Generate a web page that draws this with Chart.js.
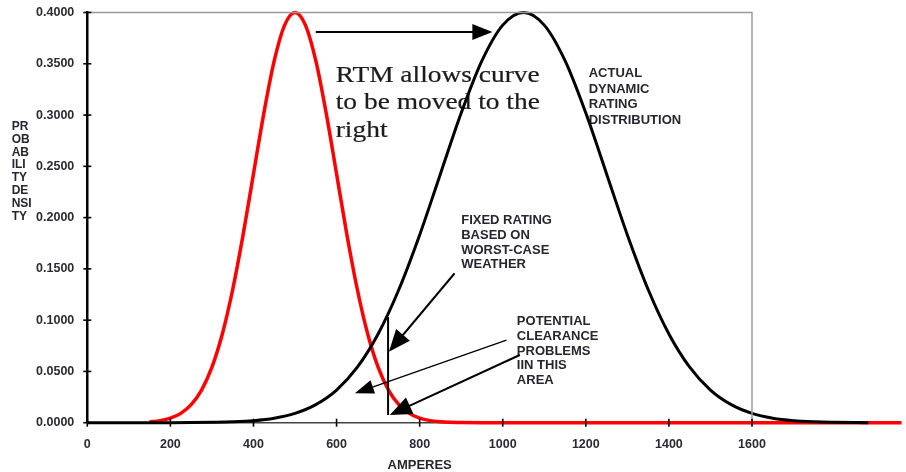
<!DOCTYPE html>
<html><head><meta charset="utf-8">
<script src="https://cdn.jsdelivr.net/npm/chart.js@4"></script>
<style>html,body{margin:0;padding:0;background:#fff;}canvas{display:block}</style>
</head><body>
<canvas id="c" width="906" height="472"></canvas>
<script>
// ---- data ----
const xTicks = [0, 200, 400, 600, 800, 1000, 1200, 1400, 1600];
const yTicks = [0, 0.05, 0.10, 0.15, 0.20, 0.25, 0.30, 0.35, 0.40];

// fixed (static) rating distribution - red
const redAmps = [150,175,200,225,250,275,300,325,350,375,400,425,450,475,500,525,550,575,600,625,650,675,700,725,750,775,800,825,850,875,900,950,1000,1500,1960];
const redDensity = [0.0009,0.0020,0.0044,0.0091,0.0176,0.0318,0.0541,0.0865,0.1299,0.1831,0.2426,0.3019,0.3530,0.3877,0.4000,0.3877,0.3530,0.3019,0.2426,0.1831,0.1299,0.0865,0.0541,0.0318,0.0176,0.0091,0.0044,0.0020,0.0009,0.0004,0.0001,0.0000,0.0000,0.0000,0.0000];

// actual dynamic rating distribution - black
const blackAmps = [0,100,200,250,300,350,400,450,500,550,600,650,700,750,800,850,900,950,1000,1050,1100,1150,1200,1250,1300,1350,1400,1450,1500,1550,1600,1650,1700,1750,1800,1850,1880];
const blackDensity = [0.0000,0.0000,0.0000,0.0001,0.0004,0.0009,0.0020,0.0044,0.0091,0.0176,0.0318,0.0541,0.0865,0.1299,0.1831,0.2426,0.3019,0.3530,0.3877,0.4000,0.3877,0.3530,0.3019,0.2426,0.1831,0.1299,0.0865,0.0541,0.0318,0.0176,0.0091,0.0044,0.0020,0.0009,0.0004,0.0001,0.0000];

const yTitleLines = ['PR','OB','AB','ILI','TY','DE','NSI','TY'];
const xTitle = 'AMPERES';
const rtmText = ['RTM allows curve','to be moved to the','right'];
const actualText = ['ACTUAL','DYNAMIC','RATING','DISTRIBUTION'];
const fixedText = ['FIXED RATING','BASED ON','WORST-CASE','WEATHER'];
const clearanceText = ['POTENTIAL','CLEARANCE','PROBLEMS','IIN THIS','AREA'];

// annotation anchors (data units: amperes, density)
const rtmAnchor = [598, 0.3324];
const actualAnchor = [1207, 0.3402];
const fixedAnchor = [900, 0.1971];
const clearanceAnchor = [1034, 0.0988];
const shiftArrow = [[550, 0.381], [975, 0.381]];
const fixedArrow = [[884, 0.1456], [726, 0.0692]];
const clearArrow1 = [[1009, 0.0806], [644, 0.0287]];
const clearArrow2 = [[1041, 0.0660], [728, 0.0075]];
const fixedRatingLine = [[724, 0.0075], [724, 0.103]];

const SANS = '"Liberation Sans", Arial, sans-serif';
const SERIF = '"Liberation Serif", "Times New Roman", serif';
const TEXT = '#262630';

function arrow(ctx, x0, y0, x1, y1, lw, hl, hw) {
  const dx = x1 - x0, dy = y1 - y0, L = Math.hypot(dx, dy);
  const ux = dx / L, uy = dy / L;
  const bx = x1 - ux * hl, by = y1 - uy * hl;
  ctx.save();
  ctx.strokeStyle = '#000'; ctx.fillStyle = '#000'; ctx.lineWidth = lw;
  ctx.beginPath(); ctx.moveTo(x0, y0); ctx.lineTo(bx + ux, by + uy); ctx.stroke();
  ctx.beginPath();
  ctx.moveTo(x1, y1);
  ctx.lineTo(bx - uy * hw, by + ux * hw);
  ctx.lineTo(bx + uy * hw, by - ux * hw);
  ctx.closePath(); ctx.fill();
  ctx.restore();
}

function lines(ctx, arr, x, y, lh, font) {
  ctx.save();
  ctx.font = font; ctx.fillStyle = TEXT; ctx.textAlign = 'left'; ctx.textBaseline = 'middle';
  arr.forEach((t, i) => ctx.fillText(t, x, y + i * lh));
  ctx.restore();
}

const overlay = {
  id: 'overlay',
  beforeDatasetsDraw(chart) {
    const {ctx, scales: {x, y}} = chart;
    // RTM serif text
    ctx.save();
    ctx.font = '23px ' + SERIF; ctx.fillStyle = '#1c1c1c'; ctx.strokeStyle = '#1c1c1c'; ctx.lineWidth = 0.2;
    ctx.textBaseline = 'alphabetic';
    const sx = 204 / ctx.measureText(rtmText[0]).width;
    const ox = x.getPixelForValue(rtmAnchor[0]), oy = y.getPixelForValue(rtmAnchor[1]);
    rtmText.forEach((t, i) => {
      ctx.save(); ctx.translate(ox, oy + i * 27.5); ctx.scale(sx, 1);
      ctx.fillText(t, 0, 0); ctx.strokeText(t, 0, 0); ctx.restore();
    });
    ctx.restore();
    const f = 'bold 13px ' + SANS;
    lines(ctx, actualText, x.getPixelForValue(actualAnchor[0]), y.getPixelForValue(actualAnchor[1]), 15.5, f);
    lines(ctx, fixedText, x.getPixelForValue(fixedAnchor[0]), y.getPixelForValue(fixedAnchor[1]), 14.7, f);
    lines(ctx, clearanceText, x.getPixelForValue(clearanceAnchor[0]), y.getPixelForValue(clearanceAnchor[1]), 14.8, f);
  },
  afterDatasetsDraw(chart) {
    const {ctx, chartArea: a, scales: {x, y}} = chart;
    const P = p => [x.getPixelForValue(p[0]), y.getPixelForValue(p[1])];
    // frame (top and right)
    ctx.save();
    ctx.strokeStyle = '#9a9a9a'; ctx.lineWidth = 1.5;
    ctx.beginPath(); ctx.moveTo(a.left, a.top); ctx.lineTo(a.right, a.top); ctx.lineTo(a.right, a.bottom); ctx.stroke();
    // cross ticks
    ctx.strokeStyle = '#000'; ctx.lineWidth = 1.6;
    yTicks.forEach(v => { const py = y.getPixelForValue(v); ctx.beginPath(); ctx.moveTo(a.left - 4, py); ctx.lineTo(a.left + 4, py); ctx.stroke(); });
    xTicks.forEach(v => { const px = x.getPixelForValue(v); ctx.beginPath(); ctx.moveTo(px, a.bottom - 4); ctx.lineTo(px, a.bottom + 4); ctx.stroke(); });
    // fixed rating vertical line
    const [l0, l1] = [P(fixedRatingLine[0]), P(fixedRatingLine[1])];
    ctx.lineWidth = 2; ctx.beginPath(); ctx.moveTo(l0[0], l0[1]); ctx.lineTo(l1[0], l1[1]); ctx.stroke();
    ctx.restore();
    // arrows
    let s = P(shiftArrow[0]), e = P(shiftArrow[1]); arrow(ctx, s[0], s[1], e[0], e[1], 2, 20, 8);
    s = P(fixedArrow[0]); e = P(fixedArrow[1]); arrow(ctx, s[0], s[1], e[0], e[1], 2.2, 22, 9);
    s = P(clearArrow1[0]); e = P(clearArrow1[1]); arrow(ctx, s[0], s[1], e[0], e[1], 1.3, 19, 7);
    s = P(clearArrow2[0]); e = P(clearArrow2[1]); arrow(ctx, s[0], s[1], e[0], e[1], 2, 22, 9);
    // axis titles
    lines(ctx, yTitleLines, 11.7, 126.7, 12.8, 'bold 12px ' + SANS);
    ctx.save();
    ctx.font = 'bold 13px ' + SANS; ctx.fillStyle = TEXT; ctx.textAlign = 'center'; ctx.textBaseline = 'middle';
    ctx.fillText(xTitle, (a.left + a.right) / 2, 465);
    ctx.restore();
  }
};

new Chart(document.getElementById('c'), {
  type: 'line',
  data: {
    datasets: [
      { label: 'Actual dynamic rating', data: blackAmps.map((v, i) => ({x: v, y: blackDensity[i]})),
        borderColor: '#000', borderWidth: 3, pointRadius: 0, cubicInterpolationMode: 'monotone', clip: false, fill: false },
      { label: 'Fixed rating', data: redAmps.map((v, i) => ({x: v, y: redDensity[i]})),
        borderColor: '#ff0000', borderWidth: 3.5, pointRadius: 0, cubicInterpolationMode: 'monotone', clip: false, fill: false }
    ]
  },
  options: {
    responsive: false, animation: false, devicePixelRatio: 1,
    layout: { padding: { left: 0, right: 154, top: 5.3, bottom: 0 } },
    plugins: { legend: { display: false }, tooltip: { enabled: false } },
    scales: {
      x: {
        type: 'linear',
        afterDataLimits: s => { s.min = xTicks[0]; s.max = xTicks[xTicks.length - 1]; },
        afterBuildTicks: s => { s.ticks = xTicks.map(v => ({value: v})); },
        afterFit: s => { s.height = 49.3; },
        grid: { display: false },
        border: { display: true, color: '#444', width: 1.6 },
        ticks: { padding: 6, color: '#2a2a33', font: { family: SANS, size: 12.5, weight: 'bold' }, maxRotation: 0, callback: v => String(v) }
      },
      y: {
        min: 0, max: 0.4,
        afterBuildTicks: s => { s.ticks = yTicks.map(v => ({value: v})); },
        afterFit: s => { s.width = 87.3; },
        grid: { display: false },
        border: { display: true, color: '#000', width: 2.5 },
        ticks: { padding: 5, color: '#2a2a33', font: { family: SANS, size: 12.5, weight: 'bold' }, callback: v => Number(v).toFixed(4) }
      }
    }
  },
  plugins: [overlay]
});
</script>
</body></html>
